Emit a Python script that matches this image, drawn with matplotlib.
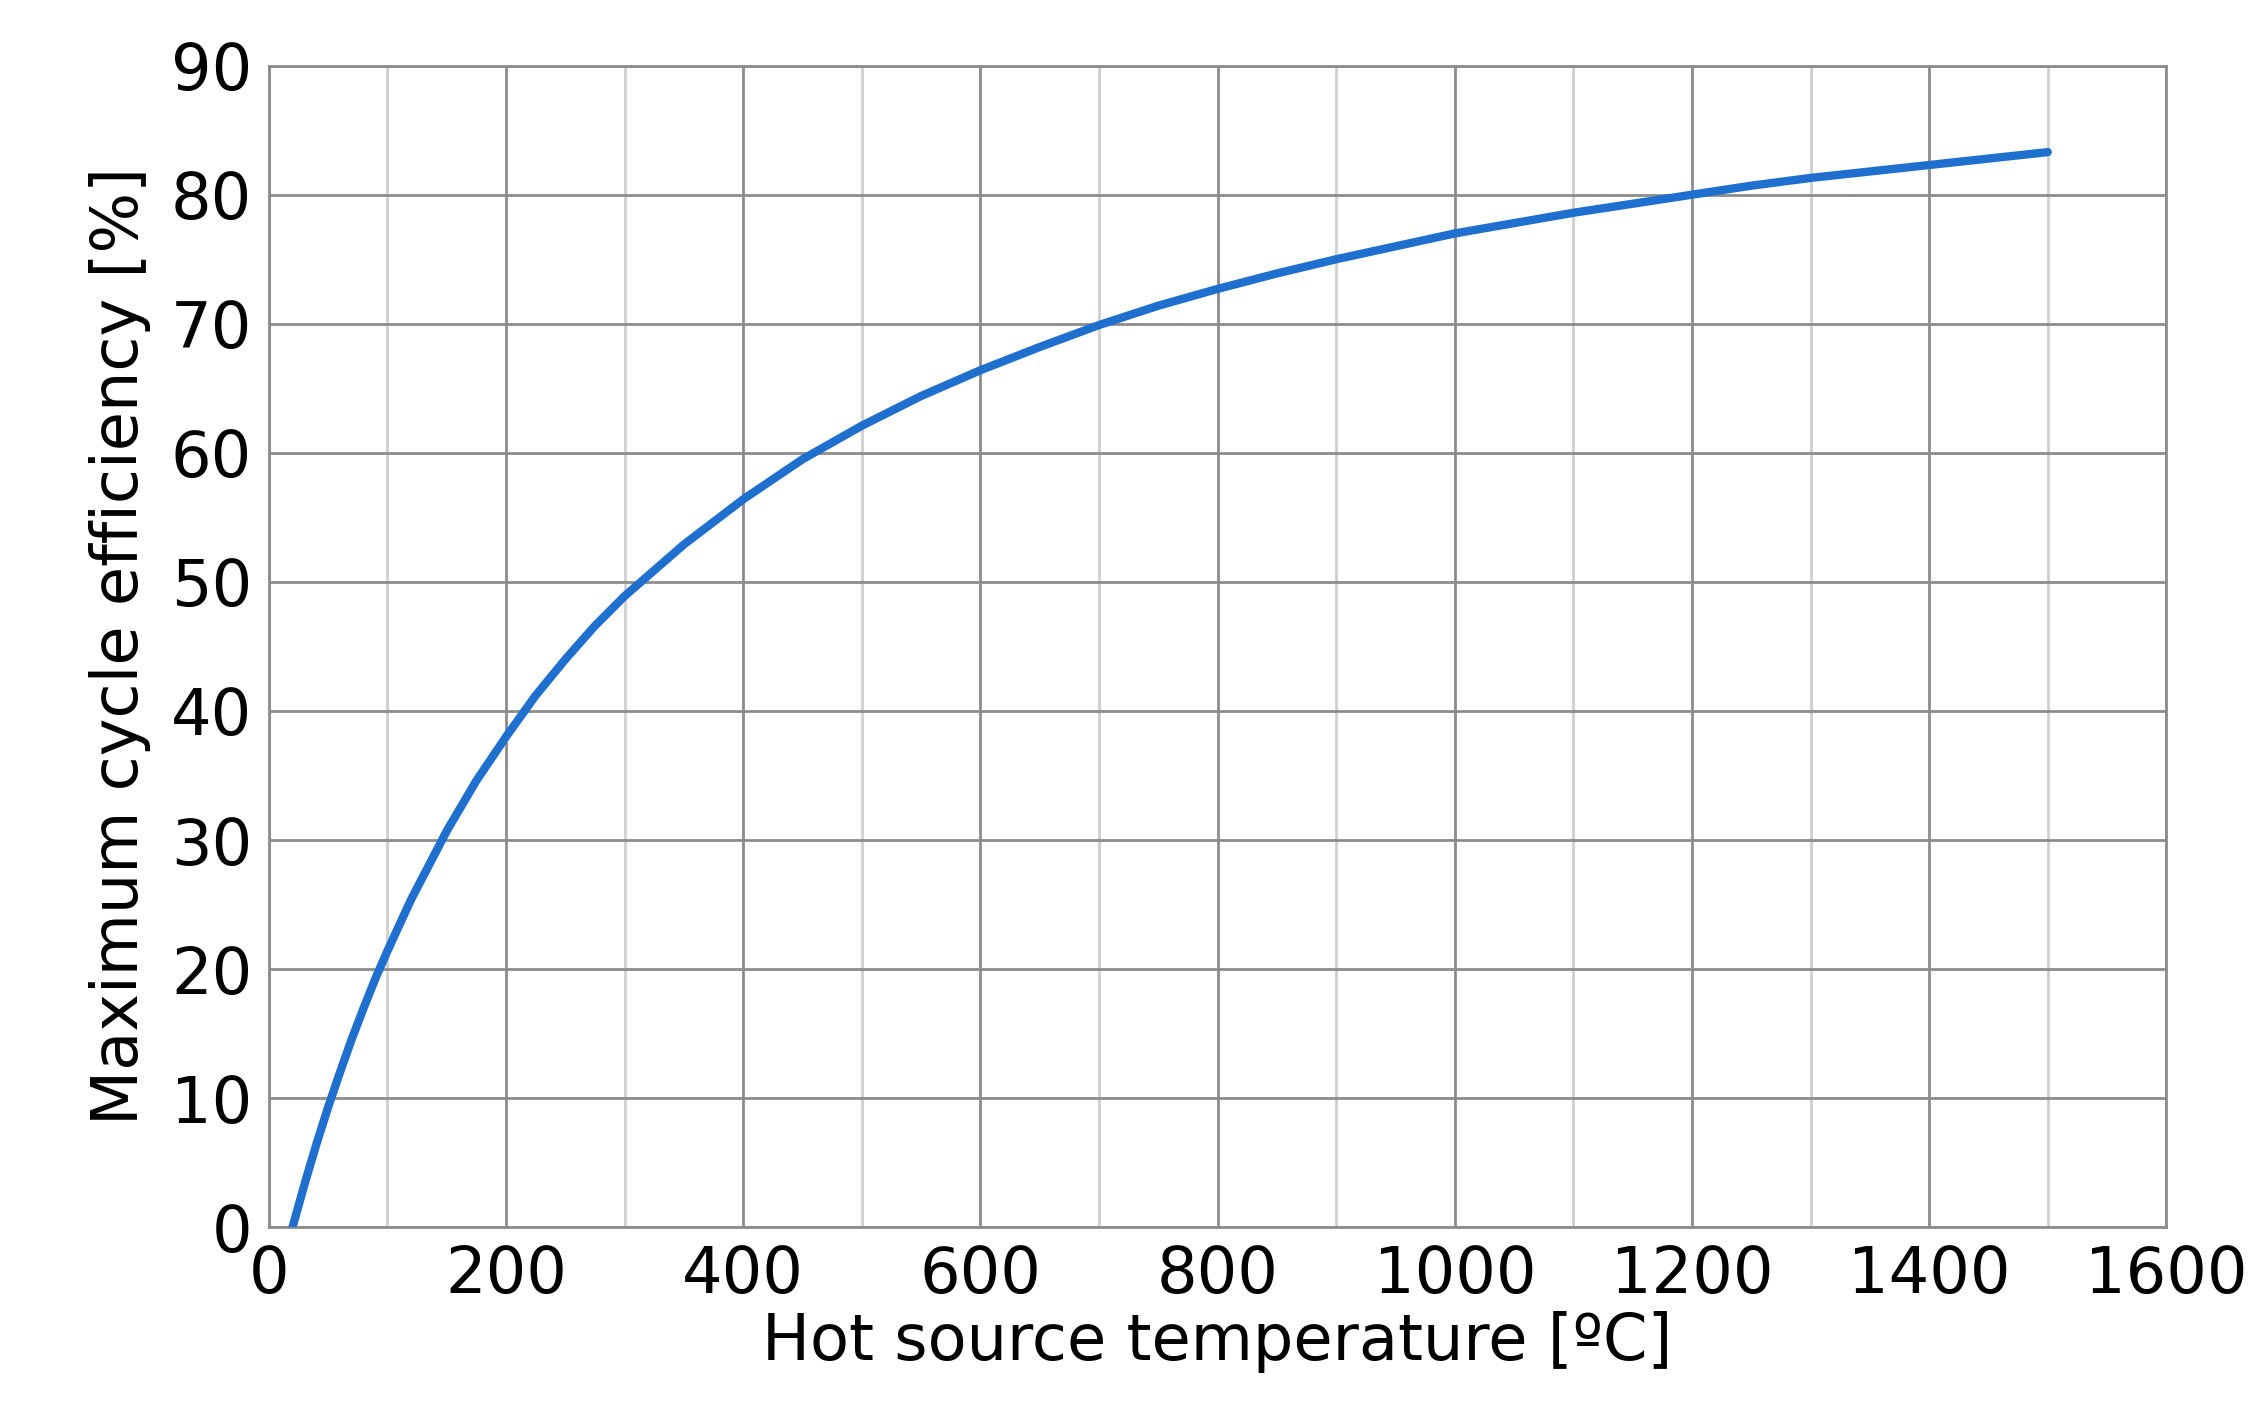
import matplotlib
matplotlib.use("Agg")
import matplotlib.pyplot as plt
import numpy as np

# Values
temp_c = [20, 30, 40, 50, 60, 70, 80, 90, 100, 120, 150, 175, 200, 225, 250,
          275, 300, 350, 400, 450, 500, 550, 600, 650, 700, 750, 800, 850,
          900, 950, 1000, 1050, 1100, 1150, 1200, 1250, 1300, 1350, 1400,
          1450, 1500]
efficiency = [0, 3.3, 6.4, 9.3, 12.0, 14.6, 17.0, 19.3, 21.4, 25.4, 30.7,
              34.6, 38.0, 41.2, 44.0, 46.6, 48.9, 52.9, 56.4, 59.5, 62.1,
              64.4, 66.4, 68.2, 69.9, 71.4, 72.7, 73.9, 75.0, 76.0, 77.0,
              77.8, 78.6, 79.3, 80.0, 80.7, 81.3, 81.8, 82.3, 82.8, 83.3]

fig = plt.figure(figsize=(22.59, 14.27), dpi=100)
ax = fig.add_axes([0.119, 0.14, 0.84, 0.814])

ax.plot(temp_c, efficiency, color="#1f6fcf", lw=6, solid_capstyle="round", zorder=3)

ax.set_xlim(0, 1600)
ax.set_ylim(0, 90)
ax.set_xticks(np.arange(0, 1601, 200))
ax.set_xticks(np.arange(100, 1600, 200), minor=True)
ax.set_yticks(np.arange(0, 91, 10))
ax.grid(which="major", color="#8c8c8c", lw=2)
ax.grid(which="minor", axis="x", color="#cfcfcf", lw=2)
ax.tick_params(which="both", length=0, labelsize=46, pad=12)
for s in ax.spines.values():
    s.set_color("#8c8c8c")
    s.set_linewidth(2)

ax.set_xlabel("Hot source temperature [ºC]", fontsize=46, labelpad=4)
ax.set_ylabel("Maximum cycle efficiency [%]", fontsize=46, labelpad=14)

fig.savefig("out.png", dpi=100)
